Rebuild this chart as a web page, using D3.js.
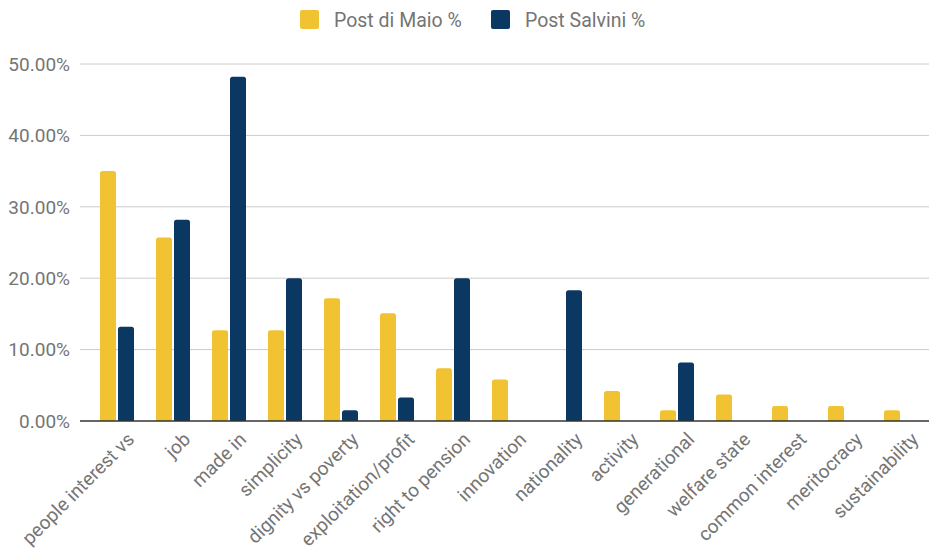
<!DOCTYPE html>
<html>
<head>
<meta charset="utf-8">
<script src="https://cdn.jsdelivr.net/npm/d3@7"></script>
<style>
  html, body { margin: 0; padding: 0; background: #fff; }
  svg { display: block; font-family: Roboto, "Noto Sans", sans-serif; }
</style>
</head>
<body>
<svg id="chart" width="929" height="560"></svg>
<script>
// Topic shares per politician's posts (%)
const categories = [
  "people interest vs", "job", "made in", "simplicity", "dignity vs poverty",
  "exploitation/profit", "right to pension", "innovation", "nationality",
  "activity", "generational", "welfare state", "common interest",
  "meritocracy", "sustainability"
];
const seriesNames = ["Post di Maio %", "Post Salvini %"];
const diMaio  = [35.0, 25.7, 12.7, 12.7, 17.2, 15.1, 7.4, 5.8, 0, 4.2, 1.5, 3.7, 2.1, 2.1, 1.5];
const salvini = [13.2, 28.2, 48.2, 20.0, 1.5, 3.3, 20.0, 0, 18.3, 0, 8.2, 0, 0, 0, 0];
const yTicks = [0, 10, 20, 30, 40, 50];
const colors = ["#f1c232", "#0b3763"];

const svg = d3.select("#chart");
const plotLeft = 80, plotRight = 929;
const y = d3.scaleLinear().domain([0, 50]).range([421, 64]);
const x0 = d3.scaleBand().domain(categories).range([89, 929]).paddingInner(0).paddingOuter(0);
const barW = 16, gap = 2;
const fontSize = 19;

// Gridlines and y labels
svg.append("g").selectAll("line").data(yTicks.filter(t => t > 0)).join("line")
  .attr("x1", plotLeft).attr("x2", plotRight)
  .attr("y1", d => y(d)).attr("y2", d => y(d))
  .attr("stroke", "#cccccc").attr("stroke-width", 1);

svg.append("g").selectAll("text").data(yTicks).join("text")
  .attr("x", 70).attr("y", d => y(d)).attr("dy", "0.36em")
  .attr("text-anchor", "end").attr("font-size", fontSize).attr("fill", "#757575")
  .text(d => d.toFixed(2) + "%");

// Bars with slightly rounded tops
const series = [diMaio, salvini];
function roundedTop(x, yTop, w, h, r) {
  if (h <= 0) return "";
  r = Math.min(r, h, w / 2);
  return `M${x},${yTop + h}V${yTop + r}Q${x},${yTop} ${x + r},${yTop}H${x + w - r}Q${x + w},${yTop} ${x + w},${yTop + r}V${yTop + h}Z`;
}
series.forEach((vals, si) => {
  svg.append("g").selectAll("path").data(vals.map((v, i) => ({ v, c: categories[i] }))).join("path")
    .attr("fill", colors[si])
    .attr("d", d => {
      const cx = x0(d.c) + x0.bandwidth() / 2;
      const bx = si === 0 ? cx - gap / 2 - barW : cx + gap / 2;
      return roundedTop(bx, y(d.v), barW, y(0) - y(d.v), 2.5);
    });
});

// Baseline
svg.append("line")
  .attr("x1", plotLeft).attr("x2", plotRight)
  .attr("y1", y(0)).attr("y2", y(0))
  .attr("stroke", "#333333").attr("stroke-width", 1.5);

// Category labels, rotated
svg.append("g").selectAll("text").data(categories).join("text")
  .attr("transform", d => `translate(${x0(d) + x0.bandwidth() / 2 + 9},${431}) rotate(-45)`)
  .attr("text-anchor", "end").attr("dy", "0.71em")
  .attr("font-size", fontSize).attr("fill", "#757575")
  .text(d => d);

// Legend
const legend = svg.append("g");
const legendX = [300, 491];
seriesNames.forEach((name, i) => {
  legend.append("rect").attr("x", legendX[i]).attr("y", 10).attr("width", 19).attr("height", 19)
    .attr("rx", 2).attr("fill", colors[i]);
  legend.append("text").attr("x", legendX[i] + 34).attr("y", 27)
    .attr("font-size", 19.5).attr("fill", "#757575").text(name);
});
</script>
</body>
</html>
